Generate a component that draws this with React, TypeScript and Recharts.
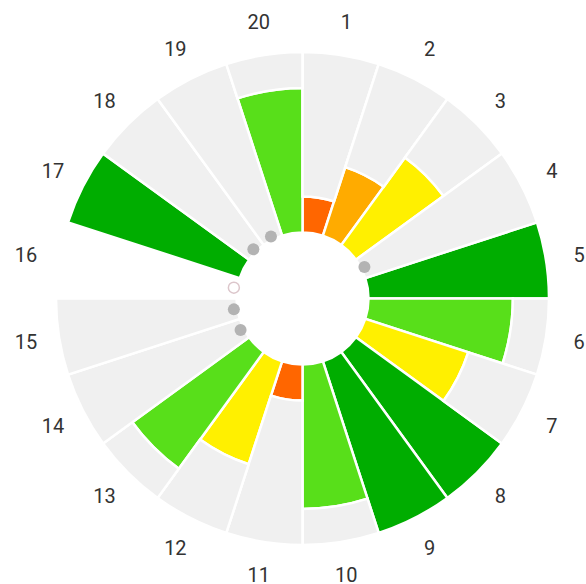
import React from 'react';
import { RadialBarChart, RadialBar, PolarAngleAxis, PolarRadiusAxis, Sector } from 'recharts';

const categories = ['1', '2', '3', '4', '5', '6', '7', '8', '9', '10', '11', '12', '13', '14', '15', '16', '17', '18', '19', '20'];
const values = [1, 2, 3, 0, 5, 4, 3, 5, 5, 4, 1, 3, 4, 0, 0, 0, 5, 0, 0, 4];
const notApplicable = ['16'];
const levelColors = ['#b3b3b3', '#ff6600', '#ffab00', '#fff000', '#58df1a', '#00ad00'];
const maxLevel = 5;
const levelDomain = [0, maxLevel];

const data = categories.map((name, i) => {
  const na = notApplicable.includes(name);
  return {
    name,
    value: values[i],
    rest: na ? 0 : maxLevel - values[i],
    na,
  };
});

const CX = 302.5;
const CY = 298.5;
const RAD = Math.PI / 180;
const HALF_BAND = 9;

const renderBar = (props: any) => {
  const { cx, cy, innerRadius, outerRadius, startAngle, endAngle, payload } = props;
  const v = payload ? payload.value : props.value;
  if (!v) return <g />;
  return (
    <Sector
      cx={cx}
      cy={cy}
      innerRadius={innerRadius}
      outerRadius={outerRadius}
      startAngle={startAngle}
      endAngle={endAngle}
      fill={levelColors[v]}
      stroke="#ffffff"
      strokeWidth={2.5}
    />
  );
};

const renderRest = (props: any) => {
  const { cx, cy, innerRadius, outerRadius, startAngle, endAngle, payload } = props;
  const item = payload || {};
  const parts: any[] = [];
  if (outerRadius > innerRadius) {
    parts.push(
      <Sector
        key="s"
        cx={cx}
        cy={cy}
        innerRadius={innerRadius}
        outerRadius={outerRadius}
        startAngle={startAngle}
        endAngle={endAngle}
        fill="#f0f0f0"
        stroke="#ffffff"
        strokeWidth={2.5}
      />
    );
  }
  if (!item.value) {
    const mid = (startAngle + endAngle) / 2;
    const r = innerRadius + 3.5;
    const x = cx + r * Math.cos(-mid * RAD);
    const y = cy + r * Math.sin(-mid * RAD);
    parts.push(
      item.na ? (
        <circle key="d" cx={x} cy={y} r={5.5} fill="#ffffff" stroke="#dcc6cb" strokeWidth={1.5} />
      ) : (
        <circle key="d" cx={x} cy={y} r={6} fill={levelColors[0]} />
      )
    );
  }
  return <g>{parts}</g>;
};

const Tick = (props: any) => {
  const { x, y, payload } = props;
  const dx = x - CX;
  const dy = y - CY;
  const r = Math.sqrt(dx * dx + dy * dy);
  const theta = Math.atan2(-dy, dx) + HALF_BAND * RAD;
  const nx = CX + r * Math.cos(theta);
  const ny = CY - r * Math.sin(theta);
  return (
    <text
      x={nx}
      y={ny}
      textAnchor="middle"
      dominantBaseline="central"
      fontFamily="Roboto, sans-serif"
      fontSize={20}
      fill="#333333"
    >
      {payload.value}
    </text>
  );
};

export default function App() {
  return (
    <div style={{ position: 'absolute', left: 0, top: 0, width: 586, height: 584 }}>
      <RadialBarChart
        width={586}
        height={584}
        cx={CX}
        cy={CY}
        innerRadius={66}
        outerRadius={246.5}
        startAngle={72}
        endAngle={-288}
        layout="centric"
        data={data}
        barCategoryGap={0}
        barGap={0}
        margin={{ top: 0, right: 0, bottom: 0, left: 0 }}
      >
        <PolarAngleAxis
          type="category"
          dataKey="name"
          tickSize={33.5}
          axisLine={false}
          tickLine={false}
          tick={<Tick />}
        />
        <PolarRadiusAxis type="number" domain={levelDomain} tick={false} axisLine={false} />
        <RadialBar dataKey="value" stackId="s" isAnimationActive={false} shape={renderBar} />
        <RadialBar dataKey="rest" stackId="s" isAnimationActive={false} shape={renderRest} />
      </RadialBarChart>
    </div>
  );
}
